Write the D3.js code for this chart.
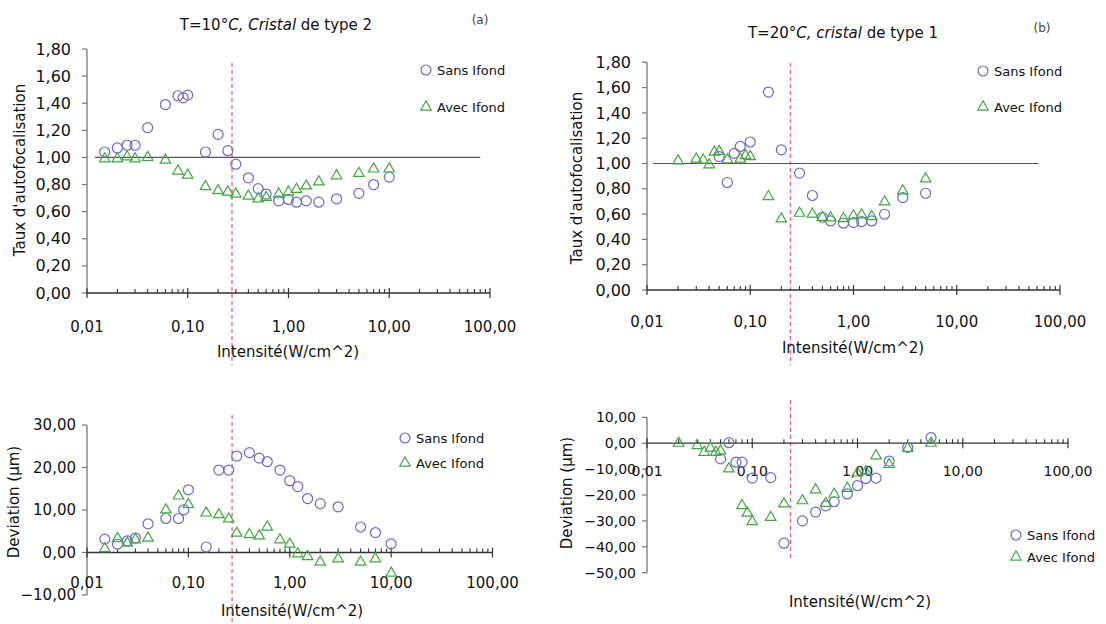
<!doctype html>
<html lang="fr">
  <head>
    <meta charset="utf-8">
    <title>Taux d'autofocalisation et deviation</title>
    <style>
      body {
        margin: 0;
        background: #fff;
      }
      svg text {
        font-family: "DejaVu Sans", sans-serif;
        fill: #111;
      }
    </style>
  </head>
  <body>
    <svg id="chart" width="1106" height="624"></svg>

    <script src="https://cdn.jsdelivr.net/npm/d3@7"></script>
    <script>
      // intensites (W/cm^2), cristal de type 2 a 10 C
      const intensA = [0.015, 0.02, 0.025, 0.03, 0.04, 0.06, 0.08, 0.09, 0.1, 0.15, 0.2, 0.25, 0.3,
        0.4, 0.5, 0.6, 0.8, 1, 1.2, 1.5, 2, 3, 5, 7, 10]
      const tauxSansA = [1.04, 1.07, 1.09, 1.09, 1.22, 1.39, 1.455, 1.44, 1.46, 1.04, 1.17, 1.05, 0.95,
        0.85, 0.77, 0.73, 0.68, 0.69, 0.67, 0.68, 0.67, 0.695, 0.735, 0.80, 0.855]
      const tauxAvecA = [0.99, 0.99, 1.005, 0.99, 1.0, 0.98, 0.90, null, 0.87, 0.785, 0.755, 0.745, 0.73,
        0.715, 0.695, 0.705, 0.73, 0.745, 0.765, 0.79, 0.82, 0.865, 0.883, 0.915, 0.915]
      const devSansA = [3.15, 1.97, 2.75, 3.4, 6.75, 8.0, 8.0, 10.05, 14.75, 1.3, 19.4, 19.4, 22.7,
        23.5, 22.2, 21.4, 19.4, 16.9, 15.5, 12.7, 11.5, 10.75, 6.0, 4.7, 2.05]
      const devAvecA = [0.94, 3.3, 2.2, 3.0, 3.4, 10.05, 13.3, null, 11.3, 9.3, 8.9, 7.9, 4.55,
        4.2, 3.9, 6.0, 3.0, 1.97, -0.3, -0.94, -2.27, -1.5, -2.27, -1.5, -4.86]

      // intensites (W/cm^2), cristal de type 1 a 20 C
      const intensB = [0.02, 0.03, 0.035, 0.04, 0.045, 0.05, 0.06, 0.07, 0.08, 0.09, 0.1, 0.15, 0.2,
        0.3, 0.4, 0.5, 0.6, 0.8, 1, 1.2, 1.5, 2, 3, 5]
      const tauxSansB = [null, null, null, null, null, 1.055, 0.85, 1.08, 1.135, null, 1.17, 1.565, 1.108,
        0.924, 0.747, 0.575, 0.546, 0.528, 0.533, 0.541, 0.546, 0.599, 0.731, 0.765]
      const tauxAvecB = [1.021, 1.035, 1.027, 0.99, 1.09, 1.095, 1.03, null, 1.035, 1.063, 1.055, 0.739, 0.562,
        0.607, 0.60, 0.575, 0.57, 0.565, 0.586, 0.594, 0.58, 0.697, 0.784, 0.879]
      const devSansB = [null, null, null, null, null, -6.06, 0.2, -7.34, -7.34, null, -13.5, -13.3, -38.6,
        -30.0, -26.6, -24.2, -22.6, -19.6, -16.4, -13.6, -13.5, -6.9, -1.6, 2.16]
      const devAvecB = [0, -0.9, -3.5, -1.9, -3.5, -3.0, -9.9, null, -24.1, -27.0, -30.3, -28.6, -23.4,
        -22.2, -18.0, -23.2, -19.7, -17.4, -11.5, -11.0, -4.9, -8.2, -2.0, 0]

      // seuils (lignes pointillees) et ligne de reference a 1
      const seuilA = [0.275, 0.27]
      const seuilB = [0.245, 0.231]
      const refA = [0.012, 80]
      const refB = [0.0114, 62]

      const xTicks = [0.01, 0.1, 1, 10, 100]
      const tauxTicks = [0, 0.2, 0.4, 0.6, 0.8, 1.0, 1.2, 1.4, 1.6, 1.8]
      const devTicksA = [-10, 0, 10, 20, 30]
      const devTicksB = [-50, -40, -30, -20, -10, 0, 10]

      const blue = '#6b6bcf'
      const green = '#42a842'
      const red = '#f0607a'
      const fmt = v => d3.format('.2f')(v).replace('.', ',').replace('-', '-')

      const svg = d3.select('#chart')

      const drawPanel = (c) => {
        const x = d3.scaleLog().domain([0.01, 100]).range(c.xr)
        const y = d3.scaleLinear().domain(c.yd).range(c.yr)
        const g = svg.append('g')
        const y0 = y(0)

        // dashed threshold
        g.append('line')
          .attr('x1', x(c.seuil)).attr('x2', x(c.seuil))
          .attr('y1', c.dash[0]).attr('y2', c.dash[1])
          .attr('stroke', red).attr('stroke-width', 1.3)
          .attr('stroke-dasharray', '4,3')

        // y axis
        g.append('line')
          .attr('x1', c.xr[0]).attr('x2', c.xr[0])
          .attr('y1', c.yr[0]).attr('y2', c.yr[1])
          .attr('stroke', '#777').attr('stroke-width', 1.3)
        g.selectAll('.ytick').data(c.yTicks).enter().append('line')
          .attr('x1', c.xr[0] - 5).attr('x2', c.xr[0])
          .attr('y1', d => y(d)).attr('y2', d => y(d))
          .attr('stroke', '#777').attr('stroke-width', 1.2)
        g.selectAll('.ylab').data(c.yTicks).enter().append('text')
          .attr('x', c.xr[0] + c.yLabDx).attr('y', d => y(d))
          .attr('dy', '0.35em').attr('text-anchor', 'end')
          .style('font-size', c.yFont + 'px')
          .text(fmt)

        // reference line at 1
        if (c.ref) {
          g.append('line')
            .attr('x1', x(c.ref[0])).attr('x2', x(c.ref[1]))
            .attr('y1', y(1)).attr('y2', y(1))
            .attr('stroke', '#555').attr('stroke-width', 1.2)
        }

        // x axis (log) with minor ticks
        g.append('line')
          .attr('x1', c.xr[0]).attr('x2', c.xr[1])
          .attr('y1', y0).attr('y2', y0)
          .attr('stroke', '#333').attr('stroke-width', 1.3)
        const minors = []
        xTicks.slice(0, -1).forEach(t => {
          for (let k = 2; k <= 9; k++) minors.push(t * k)
        })
        g.selectAll('.minor').data(minors).enter().append('line')
          .attr('x1', d => x(d)).attr('x2', d => x(d))
          .attr('y1', y0 - 4).attr('y2', y0)
          .attr('stroke', '#333').attr('stroke-width', 1.1)
        g.selectAll('.major').data(xTicks).enter().append('line')
          .attr('x1', d => x(d)).attr('x2', d => x(d))
          .attr('y1', y0 - 5).attr('y2', y0 + 5)
          .attr('stroke', '#333').attr('stroke-width', 1.2)
        g.selectAll('.xlab').data(xTicks).enter().append('text')
          .attr('x', d => x(d)).attr('y', y0 + c.xLabDy)
          .attr('dy', '0.35em').attr('text-anchor', 'middle')
          .style('font-size', c.xFont + 'px')
          .text(fmt)

        // points
        const pts = (vals) => c.xs.map((v, i) => ({ x: v, y: vals[i] })).filter(d => d.y !== null)
        g.selectAll('.sans').data(pts(c.sans)).enter().append('circle')
          .attr('cx', d => x(d.x)).attr('cy', d => y(d.y)).attr('r', 5)
          .attr('fill', 'none').attr('stroke', blue).attr('stroke-width', 1.2)
        const tri = d3.symbol().type(d3.symbolTriangle).size(48)
        g.selectAll('.avec').data(pts(c.avec)).enter().append('path')
          .attr('d', tri)
          .attr('transform', d => `translate(${x(d.x)},${y(d.y)})`)
          .attr('fill', 'none').attr('stroke', green).attr('stroke-width', 1.2)

        // legend
        const lg = g.append('g').attr('transform', `translate(${c.leg[0]},${c.leg[1]})`)
        lg.append('circle').attr('cx', 0).attr('cy', 0).attr('r', 5)
          .attr('fill', 'none').attr('stroke', blue).attr('stroke-width', 1.2)
        lg.append('text').attr('x', 11).attr('y', 0).attr('dy', '0.35em')
          .style('font-size', '13px').text('Sans Ifond')
        lg.append('path').attr('d', tri)
          .attr('transform', `translate(0,${c.leg[2]})`)
          .attr('fill', 'none').attr('stroke', green).attr('stroke-width', 1.2)
        lg.append('text').attr('x', 11).attr('y', c.leg[2]).attr('dy', '0.35em')
          .style('font-size', '13px').text('Avec Ifond')

        // axis titles
        g.append('text')
          .attr('x', c.xTitle[0]).attr('y', c.xTitle[1])
          .attr('dy', '0.35em').attr('text-anchor', 'middle')
          .style('font-size', '15px')
          .text('Intensité(W/cm^2)')
        g.append('text')
          .attr('transform', `translate(${c.yTitle[0]},${c.yTitle[1]}) rotate(-90)`)
          .attr('dy', '0.35em').attr('text-anchor', 'middle')
          .style('font-size', '15px')
          .text(c.yLabel)
      }

      drawPanel({
        xs: intensA, sans: tauxSansA, avec: tauxAvecA, seuil: seuilA[0], ref: refA,
        xr: [87, 490], yd: [0, 1.8], yr: [293, 49], yTicks: tauxTicks,
        yLabDx: -16, yFont: 16, xLabDy: 34, xFont: 15, dash: [63, 365],
        leg: [426, 70, 37], xTitle: [288, 352], yTitle: [20, 170], yLabel: "Taux d'autofocalisation"
      })
      drawPanel({
        xs: intensB, sans: tauxSansB, avec: tauxAvecB, seuil: seuilB[0], ref: refB,
        xr: [647, 1060], yd: [0, 1.8], yr: [290, 62.3], yTicks: tauxTicks,
        yLabDx: -16, yFont: 16, xLabDy: 32, xFont: 15, dash: [63, 365],
        leg: [983, 71, 36], xTitle: [853, 348], yTitle: [577, 178], yLabel: "Taux d'autofocalisation"
      })
      drawPanel({
        xs: intensA, sans: devSansA, avec: devAvecA, seuil: seuilA[1], ref: null,
        xr: [87, 492.5], yd: [-10, 30], yr: [595, 425], yTicks: devTicksA,
        yLabDx: -11, yFont: 15, xLabDy: 30, xFont: 15, dash: [415, 624],
        leg: [405, 438, 25], xTitle: [292, 611], yTitle: [14, 502], yLabel: 'Deviation (µm)'
      })
      drawPanel({
        xs: intensB, sans: devSansB, avec: devAvecB, seuil: seuilB[1], ref: null,
        xr: [647, 1068], yd: [-50, 10], yr: [572.7, 417.3], yTicks: devTicksB,
        yLabDx: -11, yFont: 14, xLabDy: 28, xFont: 14, dash: [400, 558],
        leg: [1016, 535, 22], xTitle: [860, 602], yTitle: [567, 493], yLabel: 'Deviation (µm)'
      })

      // titles
      const title = (tx, ty, parts) => {
        const t = svg.append('text').attr('x', tx).attr('y', ty).attr('dy', '0.35em')
          .attr('text-anchor', 'middle').style('font-size', '15px')
        parts.forEach(p => t.append('tspan').style('font-style', p[1] ? 'italic' : 'normal').text(p[0]))
      }
      title(276, 25, [['T=10°', false], ['C, Cristal', true], [' de type 2', false]])
      title(843, 33, [['T=20°', false], ['C, cristal', true], [' de type 1', false]])
      svg.append('text').attr('x', 480).attr('y', 20).attr('dy', '0.35em')
        .attr('text-anchor', 'middle').style('font-size', '12px').style('fill', '#444').text('(a)')
      svg.append('text').attr('x', 1042).attr('y', 28).attr('dy', '0.35em')
        .attr('text-anchor', 'middle').style('font-size', '12px').style('fill', '#444').text('(b)')
    </script>
  </body>
</html>
